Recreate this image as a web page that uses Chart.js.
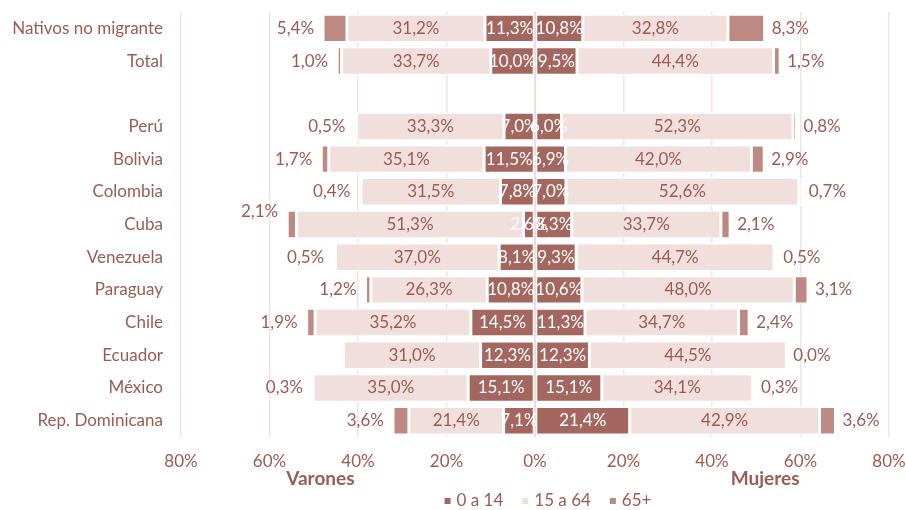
<!DOCTYPE html>
<html>
<head>
<meta charset="utf-8">
<script src="https://cdn.jsdelivr.net/npm/chart.js@4"></script>
<style>
  html, body { margin: 0; padding: 0; background: #fff; }
  #wrap { width: 906px; height: 510px; }
</style>
</head>
<body>
<div id="wrap"><canvas id="pyramid"></canvas></div>
<script>
// categories, top to bottom ("" is the empty spacer row)
const categories = ["Nativos no migrante", "Total", "", "Perú", "Bolivia", "Colombia", "Cuba",
  "Venezuela", "Paraguay", "Chile", "Ecuador", "México", "Rep. Dominicana"];

// Varones (drawn to the left)
const varones0a14  = [11.3, 10.0, null, 7.0, 11.5, 7.8, 2.6, 8.1, 10.8, 14.5, 12.3, 15.1, 7.1];
const varones15a64 = [31.2, 33.7, null, 33.3, 35.1, 31.5, 51.3, 37.0, 26.3, 35.2, 31.0, 35.0, 21.4];
const varones65    = [5.4, 1.0, null, 0.5, 1.7, 0.4, 2.1, 0.5, 1.2, 1.9, null, 0.3, 3.6];

// Mujeres (drawn to the right)
const mujeres0a14  = [10.8, 9.5, null, 6.0, 6.9, 7.0, 8.3, 9.3, 10.6, 11.3, 12.3, 15.1, 21.4];
const mujeres15a64 = [32.8, 44.4, null, 52.3, 42.0, 52.6, 33.7, 44.7, 48.0, 34.7, 44.5, 34.1, 42.9];
const mujeres65    = [8.3, 1.5, null, 0.8, 2.9, 0.7, 2.1, 0.5, 3.1, 2.4, 0.0, 0.3, 3.6];

const groupNames = ["0 a 14", "15 a 64", "65+"];
const sideTitles = ["Varones", "Mujeres"];
const axisLimit = 80;
const axisStep = 20;

const textColor = "#9c5b53";
const groupColors = ["#a4675f", "#f0dfdc", "#bd8a83"];
const gridColor = "#f3e4e2";
const font = "Lato";

const neg = arr => arr.map(v => v === null ? null : -v);
const sideSets = {
  v: [varones0a14, varones15a64, varones65],
  m: [mujeres0a14, mujeres15a64, mujeres65]
};

function makeSet(data, group, side) {
  return {
    label: groupNames[group],
    data: data,
    group: group,
    side: side,
    backgroundColor: groupColors[group],
    borderColor: "#ffffff",
    borderWidth: 1.5,
    borderSkipped: false,
    stack: "pyr"
  };
}

const fmt = v => Math.abs(v).toFixed(1).replace(".", ",") + "%";

// zero line, value labels, side titles and legend
const pyramidExtras = {
  id: "pyramidExtras",
  afterDatasetsDraw(chart) {
    const ctx = chart.ctx;
    const xs = chart.scales.x;
    const area = chart.chartArea;
    ctx.save();
    // center line over the bars
    const x0 = xs.getPixelForValue(0);
    ctx.strokeStyle = "#f0dcd9";
    ctx.lineWidth = 2;
    ctx.beginPath();
    ctx.moveTo(x0, area.top);
    ctx.lineTo(x0, area.bottom);
    ctx.stroke();

    ctx.font = "17px " + font;
    ctx.textBaseline = "middle";
    chart.data.datasets.forEach((ds, di) => {
      const meta = chart.getDatasetMeta(di);
      meta.data.forEach((bar, i) => {
        const v = ds.data[i];
        if (v === null) return;
        let x;
        let y = bar.y;
        if (ds.group === 2) {
          // outside the end of the whole side stack
          const total = sideSets[ds.side].reduce((s, arr) => s + (arr[i] || 0), 0);
          ctx.fillStyle = textColor;
          if (ds.side === "v") {
            ctx.textAlign = "right";
            x = xs.getPixelForValue(-total) - 9;
            // the Cuba label sits a bit higher in the original
            if (categories[i] === "Cuba") y -= 13;
          } else {
            ctx.textAlign = "left";
            x = xs.getPixelForValue(total) + 7;
          }
        } else {
          ctx.textAlign = "center";
          x = (bar.x + bar.base) / 2;
          ctx.fillStyle = ds.group === 0 ? "#ffffff" : textColor;
        }
        ctx.fillText(fmt(v), x, y);
      });
    });

    // side titles under the axis
    ctx.font = "bold 19px " + font;
    ctx.fillStyle = textColor;
    ctx.textAlign = "center";
    ctx.fillText(sideTitles[0], xs.getPixelForValue(-48.5), 479);
    ctx.fillText(sideTitles[1], xs.getPixelForValue(52), 479);

    // legend, centered a little right of the zero line
    ctx.font = "17px " + font;
    ctx.textAlign = "left";
    const box = 6, gap = 6, spacing = 19;
    const widths = groupNames.map(n => box + gap + ctx.measureText(n).width);
    const full = widths.reduce((a, b) => a + b, 0) + spacing * (groupNames.length - 1);
    let lx = 548 - full / 2;
    const ly = 501;
    groupNames.forEach((name, i) => {
      ctx.fillStyle = groupColors[i];
      ctx.fillRect(lx, ly - box / 2, box, box);
      ctx.fillStyle = textColor;
      ctx.fillText(name, lx + box + gap, ly);
      lx += widths[i] + spacing;
    });
    ctx.restore();
  }
};

new Chart(document.getElementById("pyramid"), {
  type: "bar",
  data: {
    labels: categories,
    datasets: [
      makeSet(neg(varones0a14), 0, "v"),
      makeSet(neg(varones15a64), 1, "v"),
      makeSet(neg(varones65), 2, "v"),
      makeSet(mujeres0a14, 0, "m"),
      makeSet(mujeres15a64, 1, "m"),
      makeSet(mujeres65, 2, "m")
    ]
  },
  options: {
    indexAxis: "y",
    responsive: true,
    maintainAspectRatio: false,
    animation: false,
    datasets: { bar: { barPercentage: 0.87, categoryPercentage: 1 } },
    layout: { padding: { top: 12, right: 17, bottom: 30, left: 0 } },
    scales: {
      x: {
        stacked: true,
        min: -axisLimit,
        max: axisLimit,
        grid: { color: gridColor, lineWidth: 1.5, drawTicks: false },
        border: { display: false },
        ticks: {
          stepSize: axisStep,
          padding: 14,
          color: textColor,
          font: { family: font, size: 17 },
          callback: v => Math.abs(v) + "%"
        },
        afterFit: s => { s.height = 43; s.paddingLeft = 0; s.paddingRight = 0; }
      },
      y: {
        stacked: true,
        grid: { display: false },
        border: { display: false },
        ticks: { color: textColor, padding: 10, font: { family: font, size: 17 } },
        afterFit: s => { s.width = 181; s.paddingTop = 0; s.paddingBottom = 0; }
      }
    },
    plugins: {
      legend: { display: false },
      tooltip: { enabled: false }
    }
  },
  plugins: [pyramidExtras]
});
</script>
</body>
</html>
